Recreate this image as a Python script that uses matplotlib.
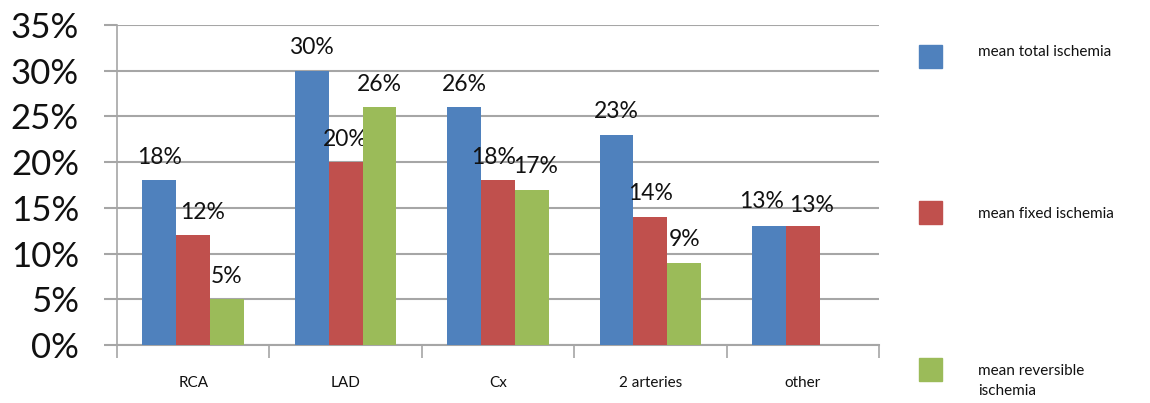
import matplotlib
matplotlib.use("Agg")
import matplotlib.pyplot as plt
from matplotlib.patches import Rectangle
import numpy as np

categories = ["RCA", "LAD", "Cx", "2 arteries", "other"]
total = [18, 30, 26, 23, 13]
fixed = [12, 20, 18, 14, 13]
reversible = [5, 26, 17, 9, None]
series_names = ["mean total ischemia", "mean fixed ischemia", "mean reversible\nischemia"]
colors = ["#4F81BD", "#C0504D", "#9BBB59"]
yticks = [0, 5, 10, 15, 20, 25, 30, 35]

plt.rcParams['font.family'] = ['Lato', 'DejaVu Sans']

fig = plt.figure(figsize=(11.5, 4.03), dpi=100)
ax = fig.add_axes([117/1150, 58/403, 762/1150, 320/403])

grid_c = "#A6A6A6"
x = np.arange(len(categories))
w = 0.222
series = [total, fixed, reversible]
# small label nudges (points) for crowded labels
nudge = {(0, 4): (-5, 1), (1, 4): (6, -2), (1, 0): (7, 0),
         (1, 2): (-3, 0), (2, 2): (3, 0)}
for i, (vals, c) in enumerate(zip(series, colors)):
    for j, (xi, v) in enumerate(zip(x, vals)):
        if v is None:
            continue
        xc = xi + (i - 1) * w
        ax.bar(xc, v, width=w, color=c, zorder=3)
        dx, dy = nudge.get((i, j), (0, 0))
        ax.annotate(f"{v}%", (xc, v), xytext=(dx, 9 + dy), textcoords="offset points",
                    ha="center", va="bottom", fontsize=16.5, color="#111111")

ax.set_xlim(-0.5, len(categories) - 0.5)
ax.set_ylim(0, 35)
ax.set_yticks(yticks)
ax.set_yticklabels([f"{t}%" for t in yticks], fontsize=25, color="#111111")
ax.yaxis.grid(True, color=grid_c, linewidth=1.5, zorder=0)
ax.tick_params(axis="y", length=9.4, width=1.5, color=grid_c, pad=18)

ax.set_xticks(np.arange(len(categories) + 1) - 0.5)
ax.set_xticklabels([])
ax.tick_params(axis="x", length=9.4, width=1.2, color=grid_c)
ax.set_xticks(x, minor=True)
ax.set_xticklabels(categories, minor=True, fontsize=11, color="#111111")
ax.tick_params(axis="x", which="minor", length=0, pad=22)

for s in ["top", "right"]:
    ax.spines[s].set_visible(False)
ax.spines["left"].set_color(grid_c)
ax.spines["left"].set_linewidth(1.2)
ax.spines["bottom"].set_color(grid_c)
ax.spines["bottom"].set_linewidth(1.5)

# legend drawn in figure coordinates
sq_tops = [45, 201, 358]
text_y = [52, 214, 381]
for top, ty, name, c in zip(sq_tops, text_y, series_names, colors):
    fig.patches.append(Rectangle((919/1150, 1 - (top + 23)/403), 23/1150, 23/403,
                                 transform=fig.transFigure, color=c, figure=fig))
    fig.text(978/1150, 1 - ty/403, name, fontsize=11, va="center", ha="left",
             color="#111111", linespacing=1.6)

fig.savefig("out.png", dpi=100)
